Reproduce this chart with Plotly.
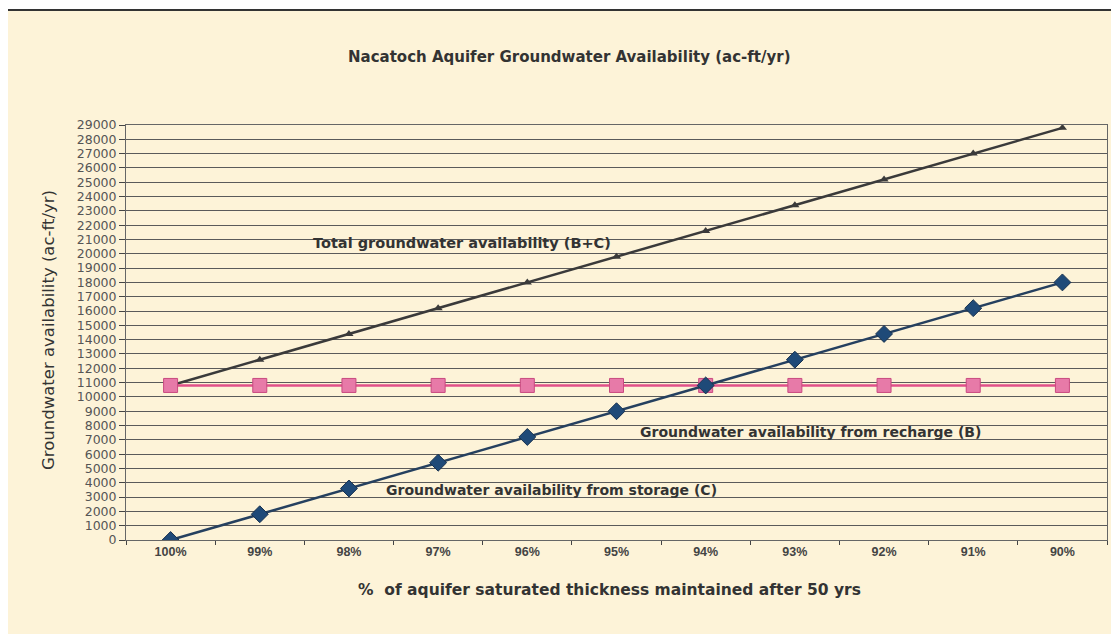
import plotly.graph_objects as go

categories = ["100%", "99%", "98%", "97%", "96%", "95%", "94%", "93%", "92%", "91%", "90%"]
total = [10800, 12600, 14400, 16200, 18000, 19800, 21600, 23400, 25200, 27000, 28800]
recharge = [10800, 10800, 10800, 10800, 10800, 10800, 10800, 10800, 10800, 10800, 10800]
storage = [0, 1800, 3600, 5400, 7200, 9000, 10800, 12600, 14400, 16200, 18000]
y_ticks = list(range(0, 29001, 1000))

OFF = 8  # page body margin
W, H = 1119 - OFF, 634 - OFF
L, R, T, B = 126, 1107, 125, 540  # target plot area in screenshot pixels

def px(x):
    return (x - L) / (R - L)

def py(y):
    return (B - y) / (B - T)

fig = go.Figure()
fig.add_trace(go.Scatter(x=categories, y=total, mode="lines+markers", name="Total",
                         line=dict(color="#3a3a3a", width=2.5),
                         marker=dict(symbol="triangle-up", size=8, color="#3a3a3a")))
fig.add_trace(go.Scatter(x=categories, y=recharge, mode="lines+markers", name="Recharge",
                         line=dict(color="#e0508a", width=2.5),
                         marker=dict(symbol="square", size=14, color="#e77aa8",
                                     line=dict(color="#c84a80", width=1))))
fig.add_trace(go.Scatter(x=categories, y=storage, mode="lines+markers", name="Storage",
                         line=dict(color="#25405f", width=2.5),
                         marker=dict(symbol="diamond", size=13, color="#1f4a78",
                                     line=dict(color="#18324f", width=1))))

fig.add_shape(type="rect", xref="paper", yref="paper",
              x0=px(7), x1=px(1140), y0=py(650), y1=py(10),
              fillcolor="#fdf3d8", line=dict(color="#333333", width=2), layer="below")

def label(text, x, y, size, angle=0):
    fig.add_annotation(text=text, xref="paper", yref="paper", x=px(x), y=py(y),
                       xanchor="center", yanchor="middle", showarrow=False,
                       textangle=angle,
                       font=dict(family="DejaVu Sans", size=size, color="#333333"))

label("<b>Total groundwater availability (B+C)</b>", 462, 243, 14.5)
label("<b>Groundwater availability from recharge (B)</b>", 810, 432, 14)
label("<b>Groundwater availability from storage (C)</b>", 551, 490, 14)
label("<b>Nacatoch Aquifer Groundwater Availability (ac-ft/yr)</b>", 569, 57, 15)
label("<b>%  of aquifer saturated thickness maintained after 50 yrs</b>", 609, 590, 15.5)
label("Groundwater availability (ac-ft/yr)", 48, 330, 16.5, angle=-90)

fig.update_layout(
    width=W, height=H,
    margin=dict(l=L - OFF, r=W - (R - OFF), t=T - OFF, b=H - (B - OFF)),
    paper_bgcolor="white",
    plot_bgcolor="#f9fbfc",
    showlegend=False,
    xaxis=dict(type="category", tickson="boundaries", ticks="outside", ticklen=4,
               tickcolor="#444", showgrid=False, showline=True, linecolor="#666",
               linewidth=1, mirror=True,
               tickvals=categories, ticktext=["<b>%s</b>" % c for c in categories],
               tickfont=dict(family="Liberation Sans", size=12.5, color="#444"),
               range=[-0.5, 10.5]),
    yaxis=dict(range=[0, 29000], tickvals=y_ticks,
               ticktext=[str(v) for v in y_ticks],
               ticks="outside", ticklen=6, tickcolor="#444",
               showgrid=True, gridcolor="#5a5a5a", gridwidth=1.3,
               showline=True, linecolor="#666", linewidth=1, mirror=True, zeroline=False,
               tickfont=dict(family="DejaVu Sans", size=12.5, color="#555")),
)

fig.write_html("out.html")
